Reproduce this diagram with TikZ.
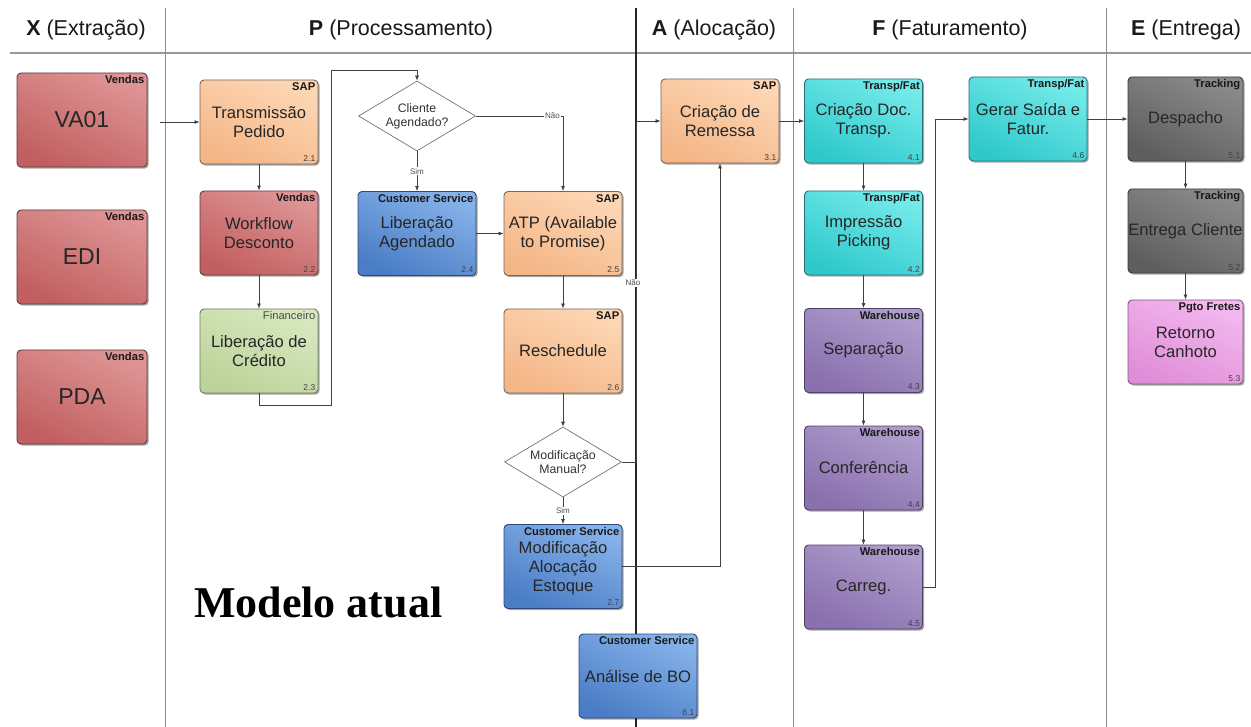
\documentclass[tikz,border=0pt]{standalone}
\usepackage{fontspec}
\setmainfont{Liberation Sans}
\newfontfamily\serifbf{Liberation Serif}
\usetikzlibrary{shapes.geometric,shadows,arrows.meta}
\definecolor{vendT}{HTML}{DE9494}
\definecolor{vendD}{HTML}{C25F60}
\definecolor{vendB}{HTML}{5E3A44}
\definecolor{sapT}{HTML}{FDD6B4}
\definecolor{sapD}{HTML}{F4B687}
\definecolor{sapB}{HTML}{7A6558}
\definecolor{csT}{HTML}{86B2EA}
\definecolor{csD}{HTML}{4A7DC6}
\definecolor{csB}{HTML}{2E4A78}
\definecolor{finT}{HTML}{D8E8BE}
\definecolor{finD}{HTML}{BCD39A}
\definecolor{finB}{HTML}{6E7A62}
\definecolor{cyT}{HTML}{74EAEA}
\definecolor{cyD}{HTML}{2FC9CC}
\definecolor{cyB}{HTML}{2A6E78}
\definecolor{puT}{HTML}{AE9CCC}
\definecolor{puD}{HTML}{8A70AE}
\definecolor{puB}{HTML}{4E4266}
\definecolor{grT}{HTML}{8A8A8A}
\definecolor{grD}{HTML}{5E5E5E}
\definecolor{grB}{HTML}{3A3A3A}
\definecolor{piT}{HTML}{F3B8EE}
\definecolor{piD}{HTML}{E08ED8}
\definecolor{piB}{HTML}{7E5A80}
\newcommand\mybox[7]{%
  \node[box,#2] (#1) at (#3,#4) {#7};
  \node[rolelbl] (#1r) at ([xshift=-3pt,yshift=-3pt]#1.north east) {#5};
  \node[numlbl] (#1n) at ([xshift=-3pt,yshift=3pt]#1.south east) {#6};
}
\begin{document}
\begin{tikzpicture}[x=1pt,y=-1pt,
  box/.style={rectangle, rounded corners=4pt, minimum width=118pt, minimum height=84pt,
    inner sep=2pt, align=center, font=\fontsize{16.6}{19}\selectfont, text=black!85,
    line width=0.9pt,
    drop shadow={shadow xshift=1.6pt,shadow yshift=-1.6pt,opacity=0.35,fill=black}},
  xbox/.style={minimum width=130pt, minimum height=94pt, font=\fontsize{23}{26}\selectfont},
  vendas/.style={draw=vendB, top color=vendT, bottom color=vendD, shading angle=-25},
  sap/.style={draw=sapB, top color=sapT, bottom color=sapD, shading angle=-25},
  cs/.style={draw=csB, top color=csT, bottom color=csD, shading angle=-25},
  fin/.style={draw=finB, top color=finT, bottom color=finD, shading angle=-25},
  cyan/.style={draw=cyB, top color=cyT, bottom color=cyD, shading angle=-25},
  purp/.style={draw=puB, top color=puT, bottom color=puD, shading angle=-25},
  gray/.style={draw=grB, top color=grT, bottom color=grD, shading angle=-25},
  pink/.style={draw=piB, top color=piT, bottom color=piD, shading angle=-25},
  rolelbl/.style={font=\bfseries\fontsize{11.2}{13}\selectfont, inner sep=0pt, anchor=north east, text=black!90},
  numlbl/.style={font=\fontsize{8.5}{9}\selectfont, inner sep=0pt, anchor=south east, text=black!75},
  dia/.style={diamond, draw=black!55, fill=white, aspect=1.7, minimum width=117pt,
    minimum height=70pt, inner sep=0pt, align=center,
    font=\fontsize{12.3}{14}\selectfont, text=black!80, line width=0.7pt},
  arr/.style={draw=black!75, line width=0.7pt, -{Latex[length=5pt,width=4pt]}},
  elbl/.style={font=\fontsize{8}{9}\selectfont, fill=white, inner sep=1pt, text=black!70},
  lane/.style={draw=black!45, line width=1pt},
  lanethick/.style={draw=black!85, line width=2pt},
  hdr/.style={font=\fontsize{21.5}{25}\selectfont, text=black!90, inner sep=0pt}
]
\useasboundingbox (0,0) rectangle (1251,727);
\fill[white] (0,0) rectangle (1251,727);

% lanes and header
\draw[lane, line width=1.6pt, draw=black!40] (10,53) -- (1251,53);
\draw[lane] (165,8) -- (165,727);
\draw[lanethick] (636,8) -- (636,727);
\draw[lane] (793,8) -- (793,727);
\draw[lane] (1106,8) -- (1106,727);

\node[hdr] (hX) at (86,30) {\textbf{X} (Extração)};
\node[hdr] (hP) at (401,30) {\textbf{P} (Processamento)};
\node[hdr] (hA) at (714,30) {\textbf{A} (Alocação)};
\node[hdr] (hF) at (950,30) {\textbf{F} (Faturamento)};
\node[hdr] (hE) at (1186,30) {\textbf{E} (Entrega)};

% coordinates
\coordinate (c0) at (160,122);
\coordinate (k1) at (331,405);
\coordinate (k2) at (331,70);
\coordinate (k3) at (636,121);
\coordinate (k4) at (935,119);

% decision nodes
\node[dia] (d1) at (417,116) {Cliente\\Agendado?};
\node[dia] (d2) at (563,462) {Modificação\\Manual?};

% boxes
\mybox{va}{vendas,xbox}{82}{120}{Vendas}{}{VA01}
\mybox{edi}{vendas,xbox}{82}{257}{Vendas}{}{EDI}
\mybox{pda}{vendas,xbox}{82}{397}{Vendas}{}{PDA}

\mybox{b21}{sap}{259}{122}{SAP}{2.1}{Transmissão\\Pedido}
\mybox{b22}{vendas}{259}{233}{Vendas}{2.2}{Workflow\\Desconto}
\mybox{b23}{fin}{259}{351}{{\mdseries\color{black!70}Financeiro}}{2.3}{Liberação de\\Crédito}
\mybox{b24}{cs}{417}{233.5}{Customer Service}{2.4}{Liberação\\Agendado}
\mybox{b25}{sap}{563}{233.5}{SAP}{2.5}{ATP (Available\\to Promise)}
\mybox{b26}{sap}{563}{351}{SAP}{2.6}{Reschedule}
\mybox{b27}{cs}{563}{566.5}{Customer Service}{2.7}{\\[-3pt]Modificação\\Alocação\\Estoque}
\mybox{b61}{cs}{638}{676}{Customer Service}{6.1}{Análise de BO}

\mybox{b31}{sap}{720}{121}{SAP}{3.1}{Criação de\\Remessa}

\mybox{b41}{cyan}{863.5}{121}{Transp/Fat}{4.1}{Criação Doc.\\Transp.}
\mybox{b42}{cyan}{863.5}{233}{Transp/Fat}{4.2}{Impressão\\Picking}
\mybox{b43}{purp}{863.5}{350.5}{Warehouse}{4.3}{Separação}
\mybox{b44}{purp}{863.5}{468}{Warehouse}{4.4}{Conferência}
\mybox{b45}{purp}{863.5}{587}{Warehouse}{4.5}{Carreg.}
\mybox{b46}{cyan}{1028}{119}{Transp/Fat}{4.6}{Gerar Saída e\\Fatur.}

\mybox{b51}{gray,minimum width=115pt}{1185.5}{119}{Tracking}{5.1}{Despacho}
\mybox{b52}{gray,minimum width=115pt,inner xsep=0pt}{1185.5}{231}{Tracking}{5.2}{Entrega Cliente}
\mybox{b53}{pink,minimum width=115pt}{1185.5}{342}{Pgto Fretes}{5.3}{Retorno\\Canhoto}

% connectors
\draw[arr] (c0) -- (b21.west);
\draw[arr] (b21.south) -- (b22.north);
\draw[arr] (b22.south) -- (b23.north);
\draw[arr] (b23.south) |- (k1) -- (k2) -| (d1.north);
\draw[arr] (d1.south) -- node[elbl, pos=0.5] (lsim1) {Sim} (b24.north);
\draw[arr] (d1.east) -| node[elbl, pos=0.44] (lnao1) {Não} (b25.north);
\draw[arr] (b24.east) -- (b25.west);
\draw[arr] (b25.south) -- (b26.north);
\draw[arr] (b26.south) -- (d2.north);
\draw[arr] (d2.south) -- node[elbl, pos=0.5] (lsim2) {Sim} (b27.north);
\draw[arr] (d2.east) -| (k3) -- (b31.west);
\node[elbl] (lnao2) at (633,283) {Não};
\draw[arr] (b27.east) -| (b31.south);
\draw[arr] (b31.east) -- (b41.west);
\draw[arr] (b41.south) -- (b42.north);
\draw[arr] (b42.south) -- (b43.north);
\draw[arr] (b43.south) -- (b44.north);
\draw[arr] (b44.south) -- (b45.north);
\draw[arr] (b45.east) -| (k4) -- (b46.west);
\draw[arr] (b46.east) -- (b51.west);
\draw[arr] (b51.south) -- (b52.north);
\draw[arr] (b52.south) -- (b53.north);

\node[font=\serifbf\bfseries\fontsize{44}{50}\selectfont, anchor=base west, inner sep=0pt] (title) at (194,617) {Modelo atual};
\end{tikzpicture}
\end{document}
